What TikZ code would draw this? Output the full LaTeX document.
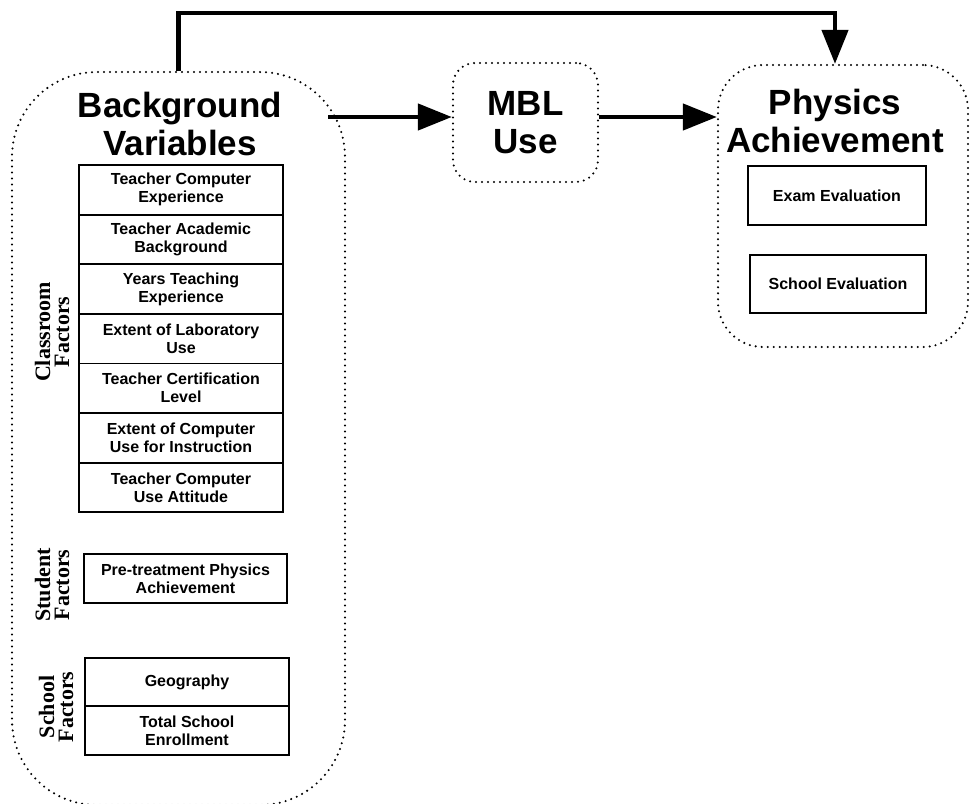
\documentclass[tikz,border=0pt]{standalone}
\usepackage{fontspec}
\setmainfont{Liberation Sans}
\newfontfamily\sidefont{Liberation Serif}
\usetikzlibrary{positioning,arrows.meta}

\begin{document}
\begin{tikzpicture}[
  x=1pt, y=-1pt,
  node distance=0pt,
  dotframe/.style={draw, line width=2.3pt, dash pattern=on 0pt off 6pt,
                   line cap=round, rounded corners=#1, inner sep=0pt},
  dotframe/.default=20pt,
  title/.style={font=\fontsize{35}{38}\selectfont\bfseries, align=center},
  var/.style={draw, line width=1.8pt, align=center, outer sep=0pt,
              font=\fontsize{16}{18}\selectfont\bfseries,
              minimum width=204pt, minimum height=49.6pt, inner sep=1pt},
  side/.style={rotate=90, align=center,
               font=\fontsize{22}{19}\selectfont\sidefont\bfseries},
  arr/.style={-{Triangle[length=34pt,width=26pt]}, line width=4.5pt},
]
\useasboundingbox (0,0) rectangle (973,803);

% frames
\begin{scope}
  \clip (0,0) rectangle (973,803);
  \node[dotframe=85pt, minimum width=333pt, minimum height=733pt] (bg) at (178.5,438.5) {};
\end{scope}
\node[dotframe=22pt, minimum width=145pt, minimum height=119pt, title] (mbl) at (525.5,122.5) {MBL\\Use};
\node[dotframe=45pt, minimum width=250pt, minimum height=282pt] (phys) at (843,206) {};

% titles
\node[title] (bgtitle) at (180,124) {Background\\Variables};
\node[title] (phystitle) at (835,121) {Physics\\Achievement};

% classroom factors
\node[var] (tce) at (181,189.8) {Teacher Computer\\Experience};
\node[var, below=of tce] (tab) {Teacher Academic\\Background};
\node[var, below=of tab] (yte) {Years Teaching\\Experience};
\node[var, below=of yte] (elu) {Extent of Laboratory\\Use};
\node[var, below=of elu] (tcl) {Teacher Certification\\Level};
\node[var, below=of tcl] (ecu) {Extent of Computer\\Use for Instruction};
\node[var, below=of ecu] (tca) {Teacher Computer\\Use Attitude};

% student factors
\node[var, minimum width=203pt, minimum height=49pt] (ppa) at (185.5,578.5) {Pre-treatment Physics\\Achievement};

% school factors
\node[var, minimum height=48.5pt] (geo) at (187,682) {Geography};
\node[var, minimum height=48.5pt, below=of geo] (tse) {Total School\\Enrollment};

% side labels
\node[side] (clf) at (52,332) {Classroom\\Factors};
\node[side] (stf) at (52,585) {Student\\Factors};
\node[side] (scf) at (56,707) {School\\Factors};

% achievement measures
\node[var, minimum width=178pt, minimum height=59pt] (exam) at (837,195.5) {Exam Evaluation};
\node[var, minimum width=176pt, minimum height=58pt] (seval) at (838,284) {School Evaluation};

% arrows
\draw[arr] ([xshift=-18pt,yshift=5.5pt]mbl.west -| bg.east) -- ([yshift=5.5pt]mbl.west);
\draw[arr] ([yshift=5.5pt]mbl.east) -- ([yshift=5.5pt]mbl.east -| phys.west);
\draw[arr] (bg.north) -- ++(0,-58) -| ([xshift=-8pt]phys.north);
\end{tikzpicture}
\end{document}
